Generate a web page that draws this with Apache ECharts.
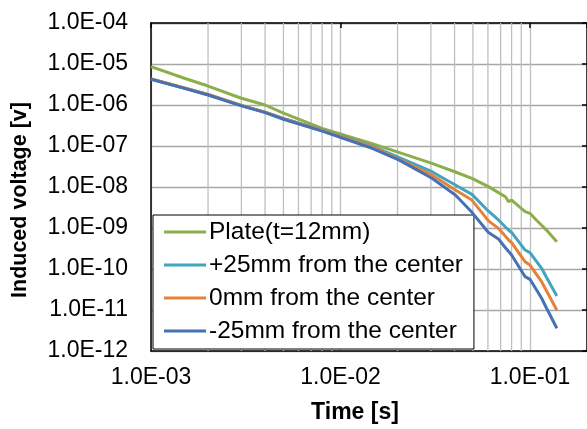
<!DOCTYPE html>
<html>
<head>
<meta charset="utf-8">
<script src="https://cdn.jsdelivr.net/npm/echarts@6/dist/echarts.min.js"></script>
<style>
html, body { margin: 0; padding: 0; background: #fff; }
#main { width: 587px; height: 429px; }
</style>
</head>
<body>
<div id="main"></div>
<script>
// time [s]
const times = [0.001, 0.0015, 0.002, 0.003, 0.004, 0.005, 0.008, 0.0147, 0.0203, 0.0304,
    0.0404, 0.0494, 0.0604, 0.0682, 0.0742, 0.077, 0.08, 0.0943, 0.1, 0.108, 0.1152, 0.1222, 0.1386];

// induced voltage [v]
const plateVals = [8.6e-6, 4.5e-6, 2.9e-6, 1.46e-6, 1.0e-6, 6.3e-7, 2.7e-7, 1.14e-7, 7.0e-8, 3.76e-8,
    2.32e-8, 1.63e-8, 1.02e-8, 7.3e-9, 5.8e-9, 4.4e-9, 4.8e-9, 2.5e-9, 2.28e-9, 1.57e-9, 1.17e-9, 8.9e-10, 4.6e-10];
const plus25Vals = [4.3e-6, 2.6e-6, 1.8e-6, 9.8e-7, 6.7e-7, 4.7e-7, 2.45e-7, 9.9e-8, 5.3e-8, 2.36e-8,
    1.12e-8, 6.6e-9, 2.57e-9, 1.57e-9, 1.06e-9, 8.9e-10, 7.8e-10, 2.9e-10, 2.5e-10, 1.56e-10, 1.04e-10, 6.3e-11, 2.2e-11];
const zeroVals = [4.3e-6, 2.6e-6, 1.8e-6, 9.8e-7, 6.7e-7, 4.65e-7, 2.4e-7, 9.5e-8, 4.8e-8, 1.96e-8,
    8.45e-9, 4.8e-9, 1.49e-9, 9.8e-10, 6.3e-10, 5.15e-10, 4.4e-10, 1.5e-10, 1.25e-10, 7.5e-11, 4.9e-11, 2.95e-11, 1.0e-11];
const minus25Vals = [4.24e-6, 2.55e-6, 1.75e-6, 9.5e-7, 6.5e-7, 4.5e-7, 2.3e-7, 8.8e-8, 4.6e-8, 1.63e-8,
    6.4e-9, 2.41e-9, 7.8e-10, 5.4e-10, 3.3e-10, 2.7e-10, 2.2e-10, 6.5e-11, 5.6e-11, 3.15e-11, 1.93e-11, 1.12e-11, 3.6e-12];

const seriesNames = ['Plate(t=12mm)', '+25mm from the center', '0mm from the center', '-25mm from the center'];
const colors = ['#8CAE4B', '#42A5BE', '#E6813A', '#4672B4'];

// tick labels by exponent
const xTickLabels = { '-3': '1.0E-03', '-2': '1.0E-02', '-1': '1.0E-01' };
const yTickLabels = {
    '-12': '1.0E-12', '-11': '1.0E-11', '-10': '1.0E-10', '-9': '1.0E-09', '-8': '1.0E-08',
    '-7': '1.0E-07', '-6': '1.0E-06', '-5': '1.0E-05', '-4': '1.0E-04'
};
// minor vertical gridlines (2..9 of each decade)
const minorX = [0.002, 0.003, 0.004, 0.005, 0.006, 0.007, 0.008, 0.009,
    0.02, 0.03, 0.04, 0.05, 0.06, 0.07, 0.08, 0.09];
const yMin = 1e-12, yMax = 1e-4;

function pick(table) {
    return function (v) {
        const e = Math.round(Math.log10(v));
        if (Math.abs(Math.log10(v) - e) > 1e-6) return '';
        return table[String(e)] || '';
    };
}

const allVals = [plateVals, plus25Vals, zeroVals, minus25Vals];

const font = 'Liberation Sans, Arial, sans-serif';
const myChart = echarts.init(document.getElementById('main'));

// minor gridlines as broken vertical segments
const minorData = [];
minorX.forEach(function (x) {
    minorData.push([x, yMin], [x, yMax], '-');
});
const series = [{
    name: 'minor',
    type: 'line',
    symbol: 'none',
    silent: true,
    connectNulls: false,
    z: 1,
    lineStyle: { color: '#BFBFBF', width: 1.3 },
    emphasis: { disabled: true },
    data: minorData
}];
seriesNames.forEach(function (name, i) {
    series.push({
        name: name,
        type: 'line',
        symbol: 'none',
        smooth: false,
        z: 3 + i,
        lineStyle: { color: colors[i], width: 3 },
        itemStyle: { color: colors[i] },
        data: times.map(function (t, k) { return [t, allVals[i][k]]; })
    });
});

myChart.setOption({
    animation: false,
    textStyle: { fontFamily: font },
    grid: { left: 151, top: 23, right: -2, bottom: 78, containLabel: false },
    legend: {
        orient: 'vertical',
        left: 153,
        top: 215,
        data: seriesNames,
        icon: 'rect',
        backgroundColor: '#fff',
        borderColor: '#000',
        borderWidth: 1,
        borderRadius: 0,
        padding: [4, 11, 5, 11],
        itemWidth: 42,
        itemHeight: 3,
        itemGap: 7,
        textStyle: { fontSize: 24.5, color: '#000', fontFamily: font, lineHeight: 26, padding: [0, 0, 0, -2] }
    },
    xAxis: [{
        type: 'log',
        logBase: 10,
        min: 0.001,
        max: 0.2,
        interval: 1,
        name: 'Time [s]',
        nameLocation: 'middle',
        nameGap: 50,
        nameTextStyle: { fontSize: 23, fontWeight: 'bold', color: '#000', padding: [0, 28, 0, 0] },
        axisLine: { show: true, onZero: false, lineStyle: { color: '#000', width: 1.5 } },
        axisTick: { show: false },
        axisLabel: { fontSize: 23, color: '#000', margin: 15, formatter: pick(xTickLabels), showMaxLabel: false },
        splitLine: { show: true, lineStyle: { color: '#BFBFBF', width: 1.3 } }
    }, {
        type: 'log',
        logBase: 10,
        min: 0.001,
        max: 0.2,
        interval: 1,
        position: 'top',
        axisLine: { show: true, onZero: false, lineStyle: { color: '#000', width: 1.5 } },
        axisTick: { show: true, inside: true, length: 5, lineStyle: { color: '#000', width: 1.5 } },
        axisLabel: { show: false },
        splitLine: { show: false }
    }],
    yAxis: [{
        type: 'log',
        logBase: 10,
        min: yMin,
        max: yMax,
        interval: 1,
        name: 'Induced voltage [v]',
        nameLocation: 'middle',
        nameGap: 120,
        nameTextStyle: { fontSize: 21.5, fontWeight: 'bold', color: '#000', padding: [0, 26, 0, 0] },
        axisLine: { show: true, onZero: false, lineStyle: { color: '#000', width: 1.5 } },
        axisTick: { show: false },
        axisLabel: { fontSize: 23, color: '#000', margin: 23, formatter: pick(yTickLabels) },
        splitLine: { show: true, lineStyle: { color: '#A6A6A6', width: 1.3 } }
    }, {
        type: 'log',
        logBase: 10,
        min: yMin,
        max: yMax,
        interval: 1,
        position: 'right',
        axisLine: { show: true, onZero: false, lineStyle: { color: '#000', width: 1.5 } },
        axisTick: { show: true, inside: true, length: 5, lineStyle: { color: '#000', width: 1.5 } },
        axisLabel: { show: false },
        splitLine: { show: false }
    }],
    series: series
});
</script>
</body>
</html>
